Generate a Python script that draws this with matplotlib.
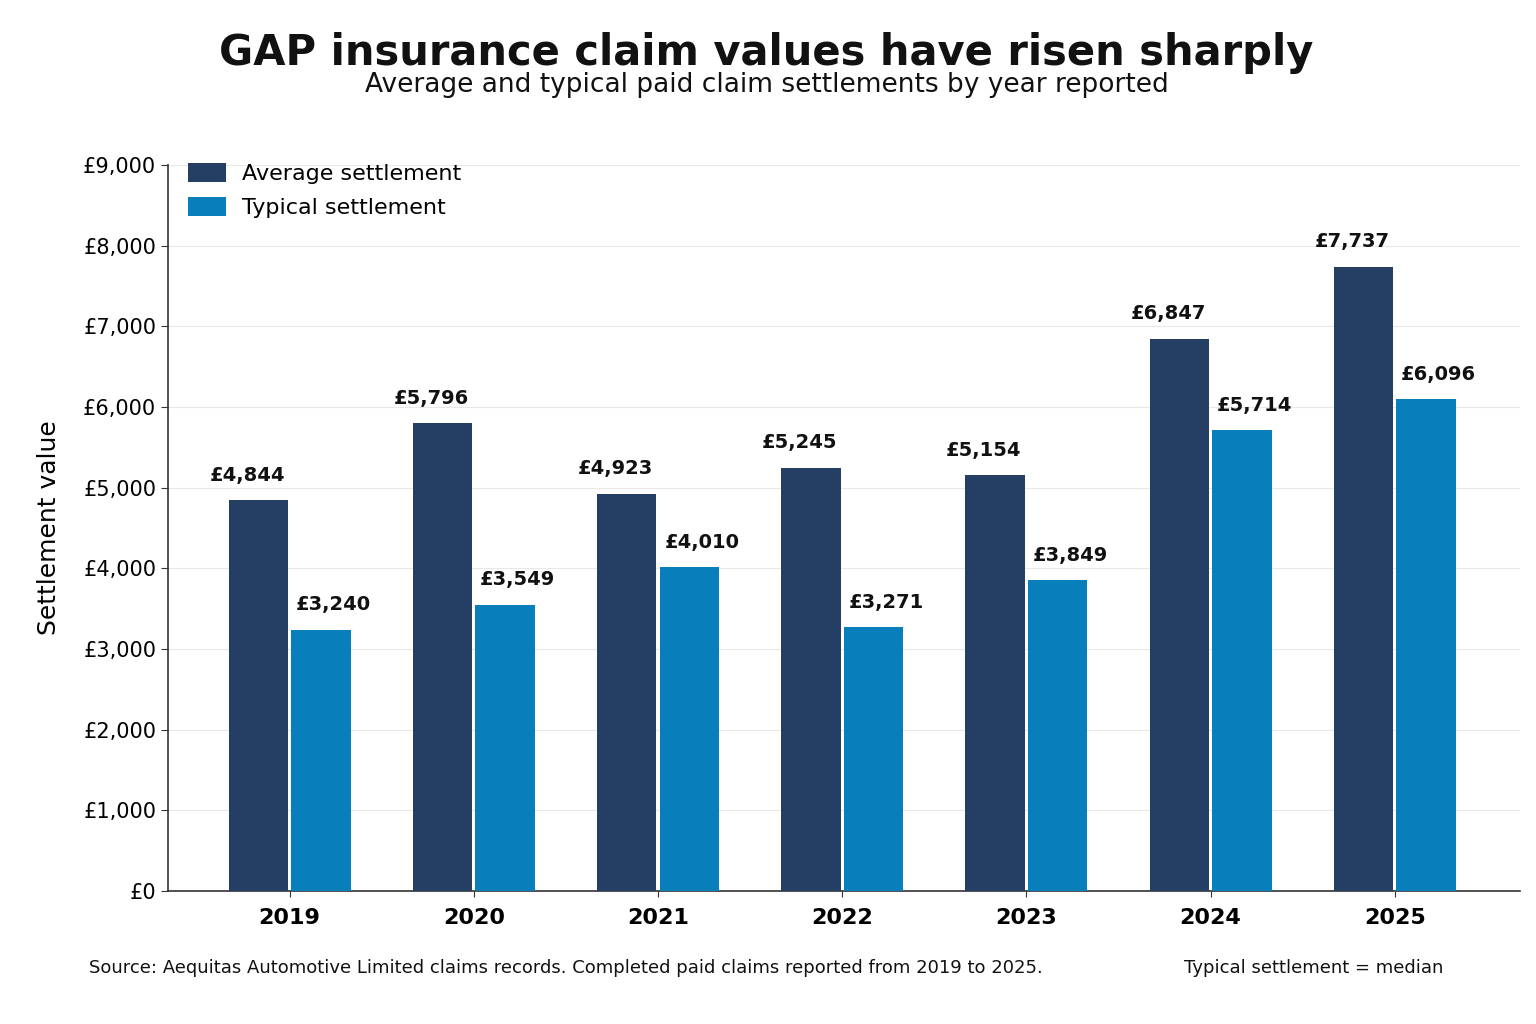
import matplotlib
matplotlib.use("Agg")
import matplotlib.pyplot as plt
import numpy as np
from matplotlib.ticker import FuncFormatter, MultipleLocator

years = ["2019", "2020", "2021", "2022", "2023", "2024", "2025"]
average = [4844, 5796, 4923, 5245, 5154, 6847, 7737]
typical = [3240, 3549, 4010, 3271, 3849, 5714, 6096]

c_avg = "#243F63"
c_typ = "#087EBB"

fig = plt.figure(figsize=(15.36, 10.24), dpi=100)
ax = fig.add_axes([0.1094, 0.130, 0.8802, 0.709])

x = np.arange(len(years))
w = 0.322
off = 0.17
ax.bar(x - off, average, w, color=c_avg, label="Average settlement", zorder=3)
ax.bar(x + off, typical, w, color=c_typ, label="Typical settlement", zorder=3)

for xi, v in zip(x, average):
    ax.annotate(f"£{v:,}", (xi - off, v), xytext=(-8, 11), textcoords="offset points",
                ha="center", va="bottom", fontsize=14, fontweight="bold", color="#111111")
for xi, v in zip(x, typical):
    ax.annotate(f"£{v:,}", (xi + off, v), xytext=(9, 11), textcoords="offset points",
                ha="center", va="bottom", fontsize=14, fontweight="bold", color="#111111")

ax.set_xlim(-0.66, 6.68)
ax.set_ylim(0, 9000)
ax.yaxis.set_major_locator(MultipleLocator(1000))
ax.yaxis.set_major_formatter(FuncFormatter(lambda v, p: f"£{int(v):,}"))
ax.set_xticks(x)
ax.set_xticklabels(years, fontsize=16, fontweight="bold")
ax.tick_params(axis="y", labelsize=15, length=5, color="#333333")
ax.tick_params(axis="x", length=4, color="#333333", pad=8)
ax.grid(axis="y", color="#E8E8E8", linewidth=0.8, zorder=0)
for s in ["top", "right"]:
    ax.spines[s].set_visible(False)
for s in ["left", "bottom"]:
    ax.spines[s].set_color("#333333")
    ax.spines[s].set_linewidth(1.2)

ax.set_ylabel("Settlement value", fontsize=18, labelpad=16)

ax.legend(loc="upper left", frameon=False, fontsize=16, bbox_to_anchor=(0.0, 1.03),
          handlelength=1.7, handleheight=0.9, handletextpad=0.75, labelspacing=0.6)

fig.text(0.499, 0.948, "GAP insurance claim values have risen sharply", ha="center", va="center",
         fontsize=30, fontweight="bold", color="#111111")
fig.text(0.499, 0.917, "Average and typical paid claim settlements by year reported", ha="center",
         va="center", fontsize=19, color="#111111")
fig.text(0.058, 0.055, "Source: Aequitas Automotive Limited claims records. Completed paid claims reported from 2019 to 2025.",
         ha="left", va="center", fontsize=13, color="#111111")
fig.text(0.940, 0.055, "Typical settlement = median", ha="right", va="center", fontsize=13, color="#111111")

fig.savefig("out.png", dpi=100, facecolor="white")
